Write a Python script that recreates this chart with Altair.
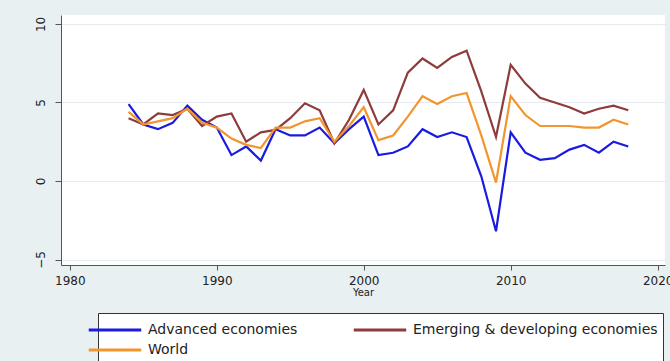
import altair as alt
import pandas as pd

years = list(range(1984, 2019))
advanced = [4.9, 3.6, 3.3, 3.7, 4.8, 3.9, 3.4, 1.65, 2.2, 1.3, 3.3, 2.9, 2.9, 3.4, 2.4,
            3.3, 4.1, 1.65, 1.8, 2.2, 3.3, 2.8, 3.1, 2.8, 0.3, -3.2, 3.1, 1.8, 1.35, 1.45,
            2.0, 2.3, 1.8, 2.5, 2.2]
emerging = [4.0, 3.6, 4.3, 4.2, 4.6, 3.5, 4.1, 4.3, 2.5, 3.1, 3.25, 4.0, 4.95, 4.5, 2.4,
            3.9, 5.8, 3.6, 4.5, 6.9, 7.8, 7.2, 7.9, 8.3, 5.7, 2.8, 7.4, 6.2, 5.3, 5.0,
            4.7, 4.3, 4.6, 4.8, 4.5]
world = [4.4, 3.6, 3.8, 4.0, 4.6, 3.7, 3.4, 2.7, 2.3, 2.1, 3.4, 3.4, 3.8, 4.0, 2.5,
         3.5, 4.7, 2.6, 2.9, 4.1, 5.4, 4.9, 5.4, 5.6, 2.9, -0.1, 5.4, 4.2, 3.5, 3.5,
         3.5, 3.4, 3.4, 3.9, 3.6]

series_names = ["Advanced economies", "Emerging & developing economies", "World"]
series_colors = ["#1b1be0", "#8e3b3b", "#f2952e"]
x_ticks = [1980, 1990, 2000, 2010, 2020]
y_ticks = [-5, 0, 5, 10]

rows = []
for i, (name, vals) in enumerate(zip(series_names, [advanced, emerging, world])):
    for yr, v in zip(years, vals):
        rows.append({"Year": yr, "value": v, "series": name, "ord": i})
df = pd.DataFrame(rows)

FONT = "DejaVu Sans"

chart = alt.Chart(df).mark_line(strokeWidth=2.2).encode(
    x=alt.X("Year:Q",
            scale=alt.Scale(domain=[1979.4, 2020.5], nice=False, zero=False),
            axis=alt.Axis(values=x_ticks, format="d", title="Year", grid=False,
                          tickSize=5, labelPadding=5, titlePadding=1,
                          labelFontSize=12, titleFontSize=10)),
    y=alt.Y("value:Q",
            scale=alt.Scale(domain=[-5.35, 10.57], nice=False, zero=False),
            axis=alt.Axis(values=y_ticks, title=None, grid=True,
                          gridColor="#e3ebef", gridWidth=1,
                          labelAngle=270, labelAlign="center", labelBaseline="bottom",
                          tickSize=6, labelPadding=8, labelFontSize=12)),
    color=alt.Color("series:N",
                    scale=alt.Scale(domain=series_names, range=series_colors),
                    legend=alt.Legend(orient="none", legendX=37, legendY=298,
                                      columns=2, direction="horizontal",
                                      symbolType="M-2.5,0H2.5", symbolSize=441,
                                      symbolStrokeWidth=3, labelFontSize=14,
                                      labelFont=FONT, labelColor="#222",
                                      labelOffset=21, columnPadding=49,
                                      rowPadding=1, padding=5, title=None,
                                      labelLimit=400, fillColor="white",
                                      strokeColor="#333")),
    order=alt.Order("ord:Q"),
    detail="series:N",
).properties(
    width=604, height=250,
    padding={"left": 61, "top": 15, "right": 5, "bottom": 96},
    autosize=alt.AutoSizeParams(type="none"),
    background="#e8f0f2",
).configure_view(
    fill="white", stroke=None,
).configure_axis(
    domainColor="#555", tickColor="#555", labelColor="#222", titleColor="#222",
    labelFont=FONT, titleFont=FONT, titleFontWeight="normal",
)

chart.save("out.html", embed_options={"renderer": "svg", "actions": False})
